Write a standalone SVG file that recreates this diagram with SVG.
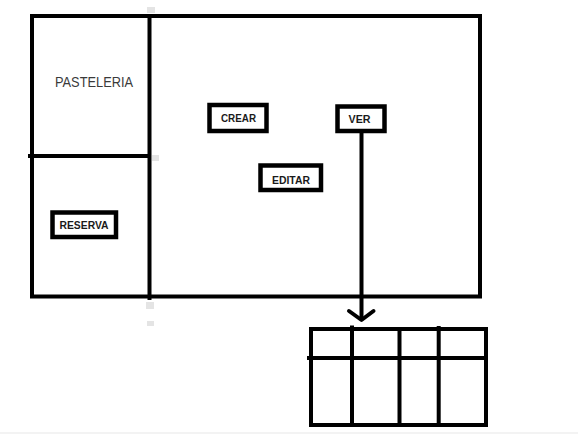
<svg xmlns="http://www.w3.org/2000/svg" width="578" height="434" viewBox="0 0 578 434">
<style>
.ln{stroke:#000;stroke-width:4;fill:none}
.btn{fill:#fff;stroke:#000;stroke-width:4.5}
.bt{font-family:"Liberation Sans",Arial,sans-serif;font-weight:bold;font-size:11px;fill:#1a1a1a;text-anchor:middle}
.gr{fill:#e4e4e4}
</style>
<rect width="578" height="434" fill="#fff"/>
<rect x="0" y="432" width="578" height="2" fill="#f3f3f3"/>
<g id="frame">
<rect class="ln" x="32" y="16" width="448" height="280.5"/>
<line class="ln" x1="149.5" y1="16" x2="149.5" y2="300"/>
<line class="ln" x1="28" y1="156" x2="149.5" y2="156"/>
<rect class="gr" x="147" y="7" width="8" height="6"/>
<rect class="gr" x="152" y="155" width="7" height="6"/>
<rect class="gr" x="146" y="302" width="8" height="7"/>
<rect class="gr" x="147" y="321" width="7" height="5"/>
</g>
<g id="pasteleria">
<text x="94" y="86.5" font-family="'Liberation Sans',Arial,sans-serif" font-size="15" fill="#3a3a3a" text-anchor="middle" textLength="78" lengthAdjust="spacingAndGlyphs">PASTELERIA</text>
</g>
<g id="crear">
<rect class="btn" x="209.5" y="105" width="57" height="26"/>
<text class="bt" x="238.5" y="122" textLength="35" lengthAdjust="spacingAndGlyphs">CREAR</text>
</g>
<g id="ver">
<rect class="btn" x="337.5" y="106.5" width="47" height="24.5"/>
<text class="bt" x="359.5" y="123.3" textLength="22" lengthAdjust="spacingAndGlyphs">VER</text>
</g>
<g id="editar">
<rect class="btn" x="260.5" y="165.5" width="60.5" height="24.5"/>
<text class="bt" x="291" y="184" textLength="38" lengthAdjust="spacingAndGlyphs">EDITAR</text>
</g>
<g id="reserva">
<rect class="btn" x="52.5" y="212.5" width="63.5" height="24.5"/>
<text class="bt" x="84" y="229" textLength="49" lengthAdjust="spacingAndGlyphs">RESERVA</text>
</g>
<g id="connectors">
<line class="ln" x1="361.5" y1="133" x2="361.5" y2="319"/>
<polyline class="ln" points="349,311 361.5,320 373.5,311" stroke-linecap="round" stroke-linejoin="round"/>
</g>
<g id="table">
<rect class="ln" x="311" y="329" width="175" height="96"/>
<line class="ln" x1="307" y1="358" x2="486" y2="358"/>
<line class="ln" x1="352" y1="325.5" x2="352" y2="425"/>
<line class="ln" x1="399.5" y1="327" x2="399.5" y2="425"/>
<line class="ln" x1="438.7" y1="326" x2="438.7" y2="425"/>
</g>
</svg>
